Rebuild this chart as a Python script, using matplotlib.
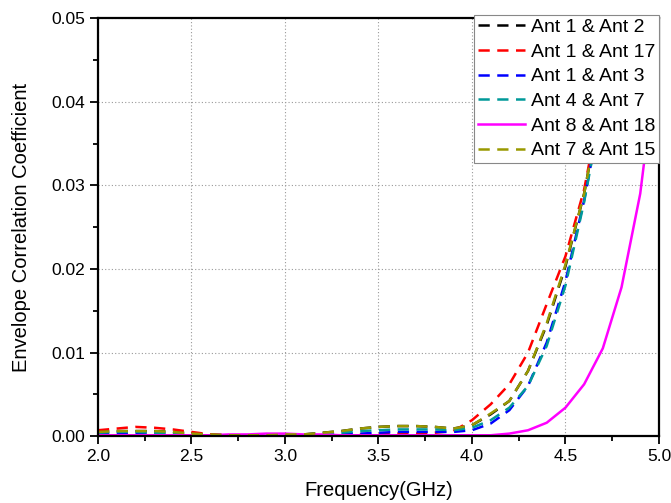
import numpy as np
import matplotlib
matplotlib.use("Agg")
import matplotlib.pyplot as plt
from matplotlib.ticker import MultipleLocator

plt.rcParams["font.family"] = ["Liberation Sans", "DejaVu Sans"]

freq = [2.0, 2.1, 2.2, 2.3, 2.4, 2.5, 2.6, 2.7, 2.8, 2.9, 3.0, 3.1, 3.2, 3.3, 3.4,
        3.5, 3.6, 3.7, 3.8, 3.9, 4.0, 4.1, 4.2, 4.3, 4.4, 4.5, 4.6, 4.7, 4.8, 4.9, 5.0]

ecc_1_2 = [0.0005, 0.0006, 0.0006, 0.0006, 0.0005, 0.0003, 0.0002, 0.0001, 0.0001, 0.0001,
           0.0002, 0.0002, 0.0004, 0.0006, 0.0009, 0.0011, 0.0012, 0.0012, 0.0011, 0.0009,
           0.0013, 0.0026, 0.0042, 0.0078, 0.0133, 0.0203, 0.0290, 0.0410, 0.0560, 0.0700, 0.0850]
ecc_1_17 = [0.0007, 0.0009, 0.0011, 0.0010, 0.0008, 0.0005, 0.0002, 0.0001, 0.0000, 0.0000,
            0.0000, 0.0001, 0.0001, 0.0001, 0.0002, 0.0002, 0.0003, 0.0003, 0.0004, 0.0006,
            0.0019, 0.0038, 0.0062, 0.0100, 0.0158, 0.0215, 0.0295, 0.0410, 0.0560, 0.0700, 0.0850]
ecc_1_3 = [0.0003, 0.0003, 0.0003, 0.0003, 0.0002, 0.0001, 0.0001, 0.0000, 0.0000, 0.0000,
           0.0001, 0.0001, 0.0002, 0.0003, 0.0003, 0.0004, 0.0005, 0.0005, 0.0005, 0.0005,
           0.0007, 0.0015, 0.0031, 0.0060, 0.0112, 0.0185, 0.0282, 0.0400, 0.0560, 0.0700, 0.0850]
ecc_4_7 = [0.0004, 0.0005, 0.0005, 0.0004, 0.0003, 0.0002, 0.0001, 0.0000, 0.0000, 0.0001,
           0.0001, 0.0002, 0.0003, 0.0004, 0.0006, 0.0007, 0.0008, 0.0008, 0.0008, 0.0007,
           0.0010, 0.0019, 0.0034, 0.0060, 0.0108, 0.0180, 0.0280, 0.0400, 0.0560, 0.0700, 0.0850]
ecc_8_18 = [0.0001, 0.0001, 0.0001, 0.0001, 0.0001, 0.0001, 0.0001, 0.0002, 0.0002, 0.0003,
            0.0003, 0.0002, 0.0002, 0.0001, 0.0001, 0.0001, 0.0001, 0.0001, 0.0001, 0.0001,
            0.0001, 0.0001, 0.0003, 0.0007, 0.0016, 0.0034, 0.0062, 0.0105, 0.0178, 0.0290, 0.0470]
ecc_7_15 = [0.0005, 0.0006, 0.0006, 0.0006, 0.0005, 0.0003, 0.0002, 0.0001, 0.0001, 0.0001,
            0.0002, 0.0002, 0.0004, 0.0006, 0.0009, 0.0011, 0.0012, 0.0012, 0.0011, 0.0009,
            0.0013, 0.0027, 0.0042, 0.0078, 0.0135, 0.0205, 0.0290, 0.0410, 0.0560, 0.0700, 0.0850]

labels = ["Ant 1 & Ant 2", "Ant 1 & Ant 17", "Ant 1 & Ant 3",
          "Ant 4 & Ant 7", "Ant 8 & Ant 18", "Ant 7 & Ant 15"]
series = [ecc_1_2, ecc_1_17, ecc_1_3, ecc_4_7, ecc_8_18, ecc_7_15]
colors = ["#000000", "#ff0000", "#0000ff", "#009999", "#ff00ff", "#999900"]
styles = ["dashed", "dashed", "dashed", "dashed", "solid", "dashed"]

fig = plt.figure(figsize=(6.71, 5.03), dpi=100)
ax = fig.add_axes([0.146, 0.133, 0.836, 0.831])

for ys, lab, c, ls in zip(series, labels, colors, styles):
    if ls == "dashed":
        ax.plot(freq, ys, color=c, lw=1.8, dashes=(4.5, 3), label=lab)
    else:
        ax.plot(freq, ys, color=c, lw=1.8, label=lab)

ax.set_xlim(2.0, 5.0)
ax.set_ylim(0.0, 0.05)
ax.xaxis.set_major_locator(MultipleLocator(0.5))
ax.xaxis.set_minor_locator(MultipleLocator(0.25))
ax.yaxis.set_major_locator(MultipleLocator(0.01))
ax.yaxis.set_minor_locator(MultipleLocator(0.005))
ax.xaxis.set_major_formatter(plt.FormatStrFormatter("%.1f"))
ax.yaxis.set_major_formatter(plt.FormatStrFormatter("%.2f"))
ax.grid(True, which="major", color="#999999", ls=(0, (1, 2)), lw=0.8)
ax.tick_params(which="major", direction="out", length=6, width=1.3, labelsize=12.5)
ax.tick_params(which="minor", direction="out", length=3.5, width=1.3)
for sp in ax.spines.values():
    sp.set_linewidth(1.6)

ax.set_xlabel("Frequency(GHz)", fontsize=14.5, labelpad=12)
ax.set_ylabel("Envelope Correlation Coefficient", fontsize=14.5, labelpad=14)

leg = ax.legend(loc="upper right", bbox_to_anchor=(1.0, 1.008), borderaxespad=0,
                fontsize=14, frameon=True, fancybox=False, framealpha=1,
                edgecolor="#888888", handlelength=2.4, handletextpad=0.3,
                labelspacing=0.36, borderpad=0.2)
leg.get_frame().set_linewidth(0.8)

fig.savefig("out.png", dpi=100)
